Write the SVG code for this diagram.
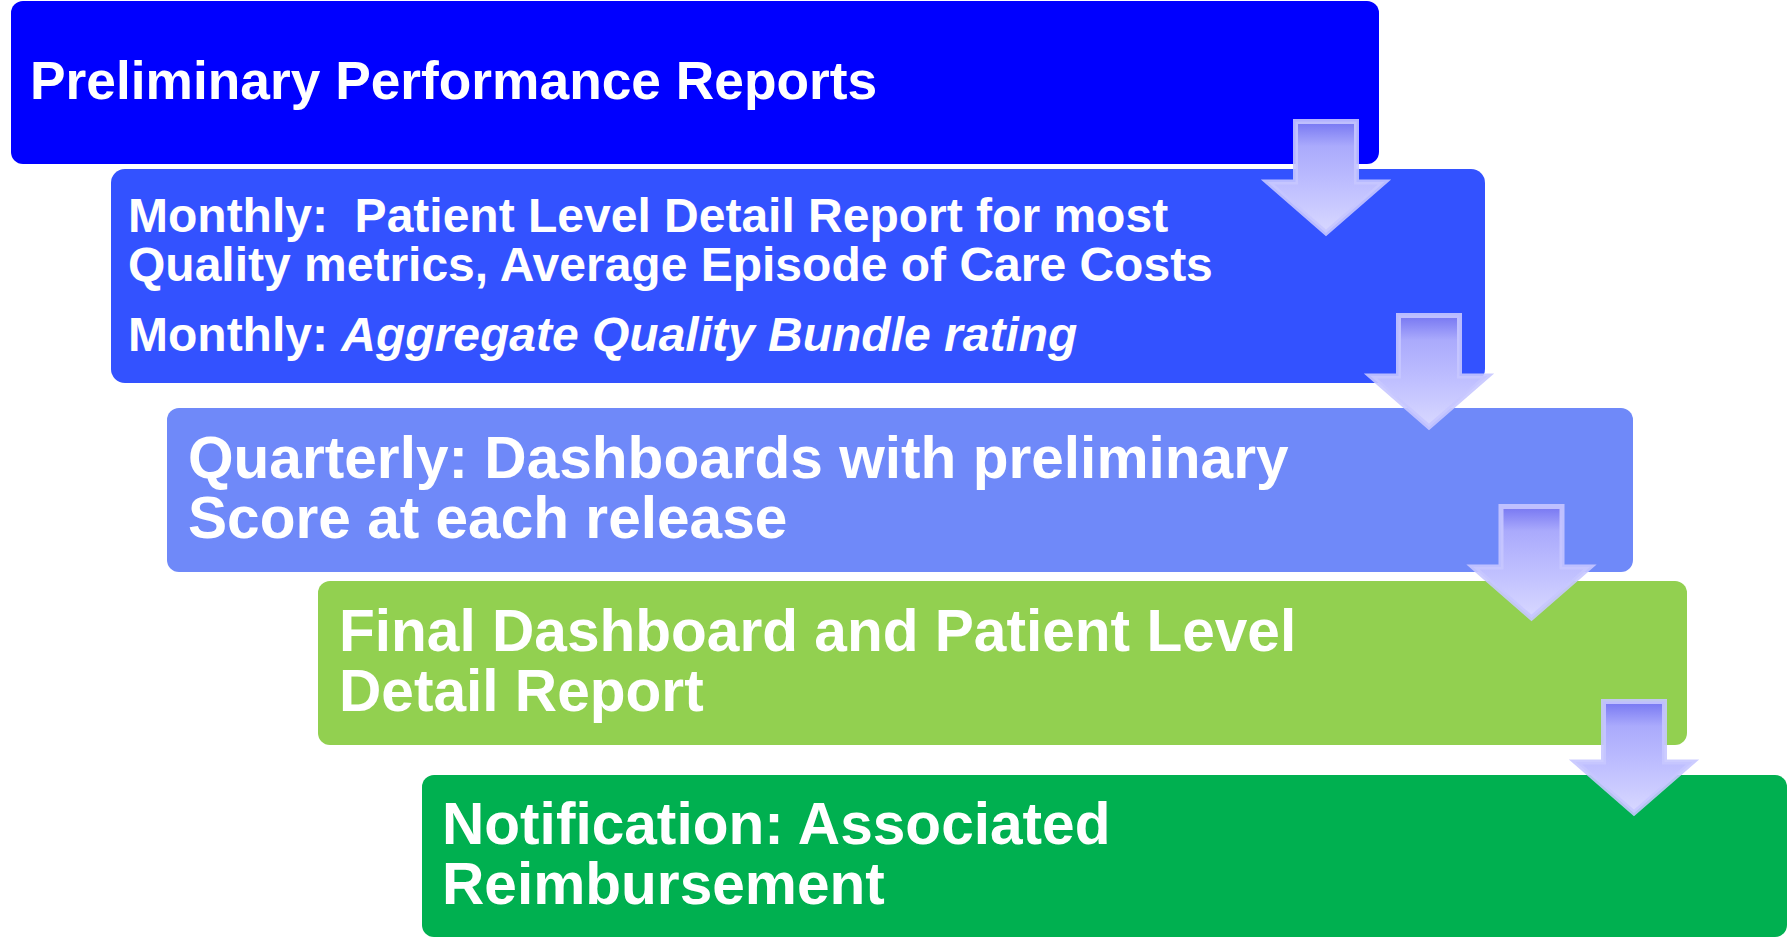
<svg xmlns="http://www.w3.org/2000/svg" xmlns:xlink="http://www.w3.org/1999/xlink" width="1788" height="938" viewBox="0 0 1788 938">
  <style>
    .box { stroke: none; }
    .t { font-family: "Liberation Sans", Arial, sans-serif; font-weight: bold; fill: #FFFFFF; }
    .t48 { font-size: 48px; }
    .t53 { font-size: 53.3px; }
    .t58 { font-size: 58.6px; }
    .it { font-style: italic; }
    .arrow { fill: url(#arrowFill); stroke: #C6C6FF; stroke-width: 5; stroke-linejoin: miter; stroke-opacity: 0.9; }
  </style>
  <defs>
    <linearGradient id="arrowFill" x1="0" y1="0" x2="0" y2="1">
      <stop offset="0" stop-color="#7676F2"/>
      <stop offset="0.22" stop-color="#AAAAFC"/>
      <stop offset="0.6" stop-color="#C0C0FF"/>
      <stop offset="1" stop-color="#D8D8FF"/>
    </linearGradient>
    <!-- down arrow, origin at top centre of the shaft -->
    <polygon id="downArrow" class="arrow" points="-30.5,2.5 30.5,2.5 30.5,63 58.5,63 0,114 -58.5,63 -30.5,63"/>
  </defs>

  <g id="node-preliminary">
    <rect class="box" x="11" y="1" width="1368" height="163" rx="12" fill="#0000FF"/>
    <text class="t t53" x="30" y="99">Preliminary Performance Reports</text>
  </g>

  <g id="node-monthly">
    <rect class="box" x="111" y="169" width="1374" height="214" rx="14" fill="#3352FF"/>
    <text class="t t48" x="128" y="232">Monthly:&#160; Patient Level Detail Report for most</text>
    <text class="t t48" x="128" y="281">Quality metrics, Average Episode of Care Costs</text>
    <text class="t t48" x="128" y="351">Monthly: <tspan class="it">Aggregate Quality Bundle rating</tspan></text>
  </g>

  <g id="node-quarterly">
    <rect class="box" x="167" y="408" width="1466" height="164" rx="12" fill="#6F89F9"/>
    <text class="t t58" x="188" y="478">Quarterly: Dashboards with preliminary</text>
    <text class="t t58" x="188" y="538">Score at each release</text>
  </g>

  <g id="node-final">
    <rect class="box" x="318" y="581" width="1369" height="164" rx="12" fill="#92D050"/>
    <text class="t t58" x="339" y="651">Final Dashboard and Patient Level</text>
    <text class="t t58" x="339" y="711">Detail Report</text>
  </g>

  <g id="node-notification">
    <rect class="box" x="422" y="775" width="1365" height="162" rx="12" fill="#00B050"/>
    <text class="t t58" x="442" y="844">Notification: Associated</text>
    <text class="t t58" x="442" y="904">Reimbursement</text>
  </g>

  <g id="connectors">
    <use xlink:href="#downArrow" href="#downArrow" transform="translate(1326,119)"/>
    <use xlink:href="#downArrow" href="#downArrow" transform="translate(1429,313)"/>
    <use xlink:href="#downArrow" href="#downArrow" transform="translate(1531.5,504)"/>
    <use xlink:href="#downArrow" href="#downArrow" transform="translate(1634,699)"/>
  </g>
</svg>
